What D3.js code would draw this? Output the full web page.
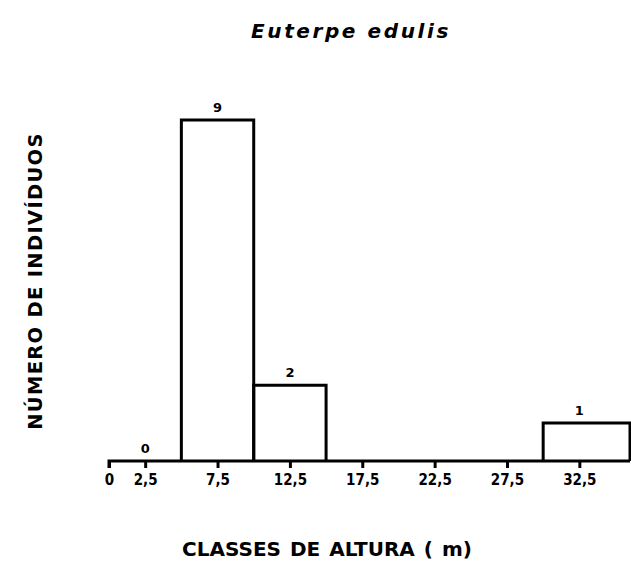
<!DOCTYPE html>
<html>
<head>
<meta charset="utf-8">
<script src="https://cdn.jsdelivr.net/npm/d3@7"></script>
<style>
  html, body { margin: 0; padding: 0; background: #fff; }
  svg { display: block; }
  text { font-family: "DejaVu Sans", sans-serif; font-weight: bold; fill: #000; }
</style>
</head>
<body>
<svg id="chart" width="631" height="561"></svg>
<script>
// Height classes (m): lower and upper bounds of each bar
const classLow  = [0, 5, 10, 15, 20, 25, 30];
const classHigh = [5, 10, 15, 20, 25, 30, 36];
// Number of individuals per class
const counts = [0, 9, 2, 0, 0, 0, 1];
// Which classes carry a count label
const showLabel = [true, true, true, false, false, false, true];
// Axis tick positions and labels
const tickValues = [0, 2.5, 7.5, 12.5, 17.5, 22.5, 27.5, 32.5];
const tickLabels = ["0", "2,5", "7,5", "12,5", "17,5", "22,5", "27,5", "32,5"];

const svg = d3.select("#chart");

const x = d3.scaleLinear().domain([0, 36]).range([109, 630]);
const y = d3.scaleLinear().domain([0, 9]).range([461, 120]);

const bars = classLow.map((lo, i) => ({ lo, hi: classHigh[i], n: counts[i], label: showLabel[i] }));

// Bars: open-bottom rectangles drawn as outlines
svg.append("g")
  .selectAll("path")
  .data(bars.filter(d => d.n > 0))
  .join("path")
  .attr("d", d => `M${x(d.lo)},${y(0)}V${y(d.n)}H${x(d.hi)}V${y(0)}`)
  .attr("fill", "none")
  .attr("stroke", "#000")
  .attr("stroke-width", 3)
  .attr("stroke-linejoin", "miter");

// Baseline axis with downward ticks
const axis = d3.axisBottom(x)
  .tickValues(tickValues)
  .tickFormat((d, i) => tickLabels[i])
  .tickSize(7)
  .tickPadding(6);

const gx = svg.append("g")
  .attr("transform", `translate(0,${y(0)})`)
  .call(axis);
gx.select(".domain")
  .attr("d", `M${x(0)},7V0H${x(36)}`)
  .attr("stroke", "#000")
  .attr("stroke-width", 3);
gx.selectAll(".tick line").attr("stroke", "#000").attr("stroke-width", 3);
gx.selectAll(".tick text")
  .style("font-family", "'DejaVu Sans Condensed', 'DejaVu Sans', sans-serif")
  .style("font-weight", "bold")
  .style("font-size", "15px")
  .attr("fill", "#000");

// Count labels above each bar
svg.append("g")
  .selectAll("text")
  .data(bars.filter(d => d.label))
  .join("text")
  .attr("x", d => x((d.lo + Math.min(d.hi, d.lo + 5)) / 2))
  .attr("y", d => y(d.n) - 8)
  .attr("text-anchor", "middle")
  .style("font-size", "13px")
  .text(d => d.n);

// Title
svg.append("text")
  .attr("x", 351)
  .attr("y", 38)
  .attr("text-anchor", "middle")
  .style("font-size", "20px")
  .style("font-style", "italic")
  .style("letter-spacing", "2.6px")
  .text("Euterpe edulis");

// Y-axis title
svg.append("text")
  .attr("transform", "translate(42,281) rotate(-90)")
  .attr("text-anchor", "middle")
  .style("font-size", "19.5px")
  .style("letter-spacing", "1.3px")
  .text("NÚMERO DE INDIVÍDUOS");

// X-axis title
svg.append("text")
  .attr("x", 327)
  .attr("y", 556)
  .attr("text-anchor", "middle")
  .style("font-size", "20px")
  .style("letter-spacing", "0px")
  .style("word-spacing", "2px")
  .text("CLASSES DE ALTURA ( m)");
</script>
</body>
</html>
